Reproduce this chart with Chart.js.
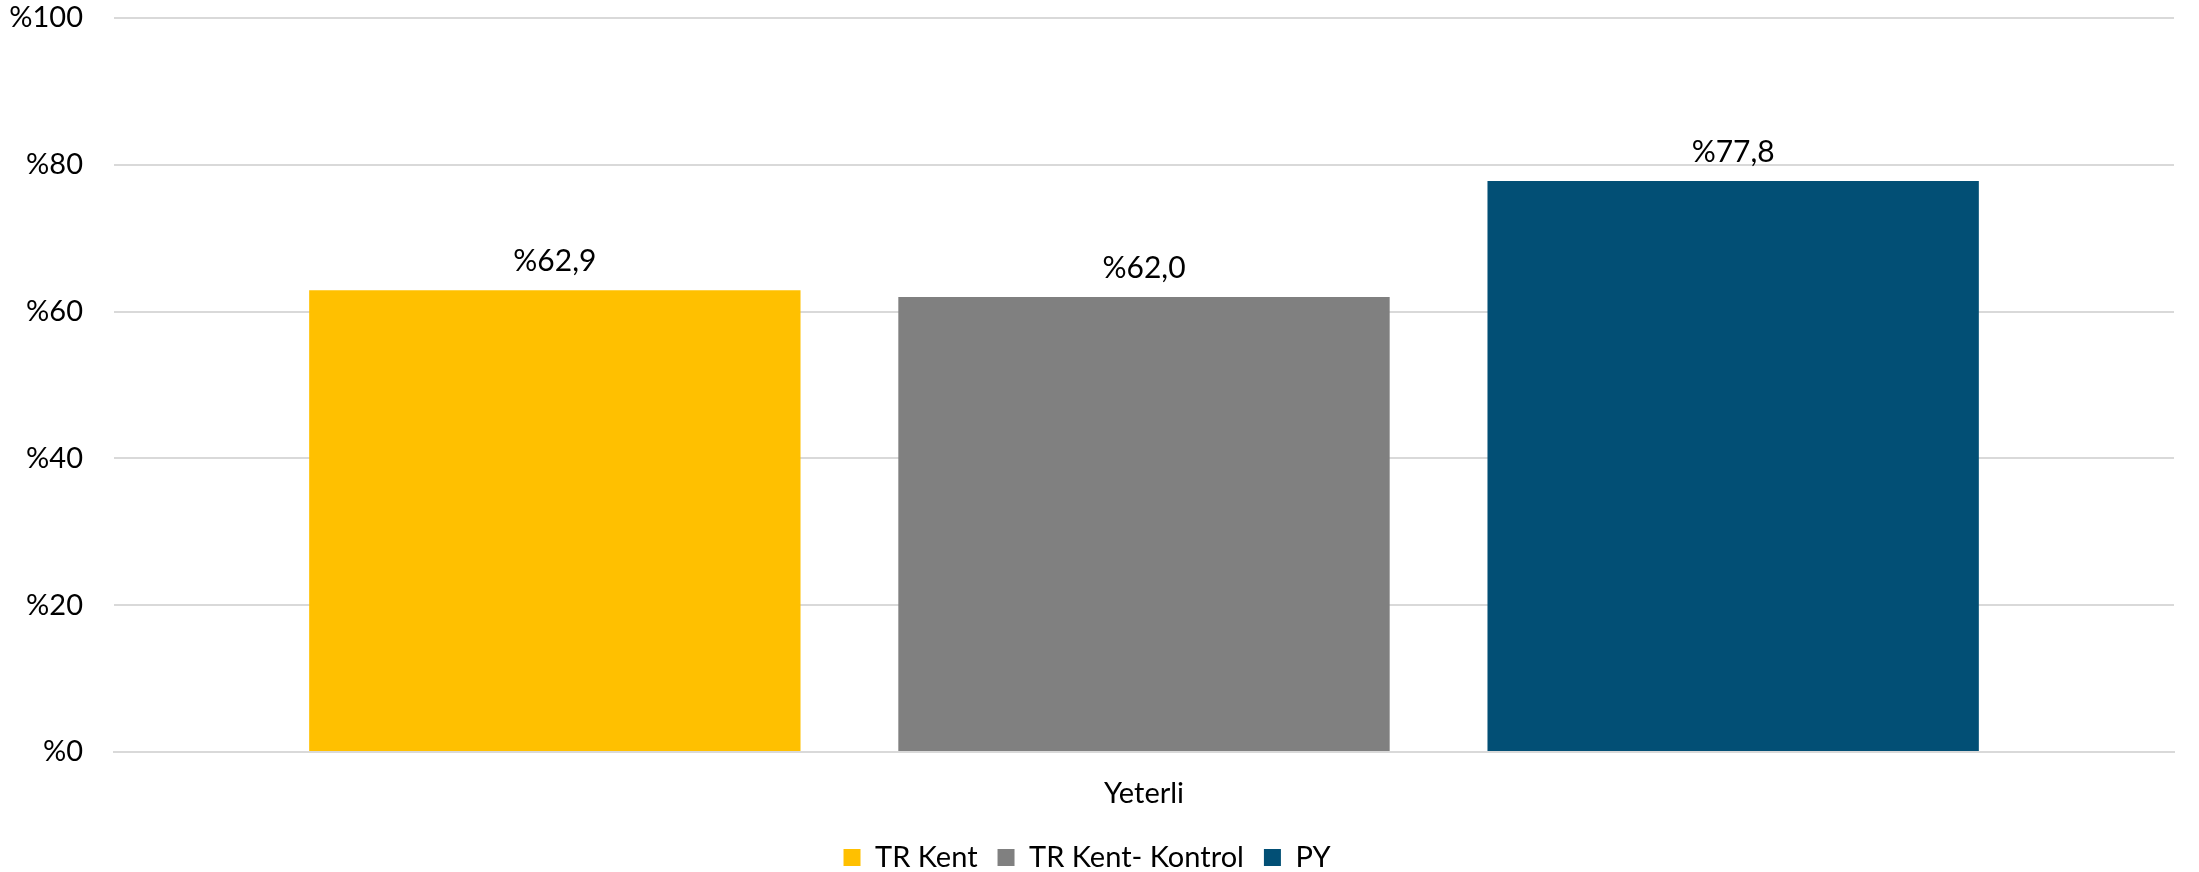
<!DOCTYPE html>
<html>
<head>
<meta charset="utf-8">
<script src="https://cdn.jsdelivr.net/npm/chart.js@4"></script>
<style>
  html, body { margin: 0; padding: 0; background: #ffffff; }
  #wrap { width: 2199px; height: 872px; }
</style>
</head>
<body>
<div id="wrap"><canvas id="chart" width="2199" height="872"></canvas></div>
<script>
// Chart data
const categories = ["Yeterli"];
const seriesNames = ["TR Kent", "TR Kent- Kontrol", "PY"];
const trKent = [62.9];
const trKentKontrol = [62.0];
const py = [77.8];
const yTicks = [0, 20, 40, 60, 80, 100];

const colors = ["#FFC000", "#808080", "#024F75"];
const fontFamily = "Lato, 'Open Sans', sans-serif";

// Format like "%62,9"
function pct(v, digits) {
  return "%" + v.toFixed(digits).replace(".", ",");
}

// Value labels above bars
const barLabels = {
  id: "barLabels",
  afterDatasetsDraw(chart) {
    const ctx = chart.ctx;
    ctx.save();
    ctx.font = "30px " + fontFamily;
    ctx.fillStyle = "#000000";
    ctx.textAlign = "center";
    ctx.textBaseline = "bottom";
    chart.data.datasets.forEach((ds, i) => {
      const meta = chart.getDatasetMeta(i);
      meta.data.forEach((bar, j) => {
        ctx.fillText(pct(ds.data[j], 1), bar.x, bar.y - 14);
      });
    });
    ctx.restore();
  },
};

new Chart(document.getElementById("chart"), {
  type: "bar",
  data: {
    labels: categories,
    datasets: [
      { label: seriesNames[0], data: trKent, backgroundColor: colors[0] },
      { label: seriesNames[1], data: trKentKontrol, backgroundColor: colors[1] },
      { label: seriesNames[2], data: py, backgroundColor: colors[2] },
    ],
  },
  options: {
    responsive: false,
    animation: false,
    layout: { padding: { top: 18, right: 25, left: 0, bottom: -10 } },
    datasets: {
      bar: { categoryPercentage: 0.858, barPercentage: 0.834 },
    },
    plugins: {
      tooltip: { enabled: false },
      legend: {
        position: "bottom",
        labels: {
          color: "#000000",
          font: { family: fontFamily, size: 29, lineHeight: 1 },
          boxWidth: 17,
          boxHeight: 17,
          padding: 20,
        },
      },
    },
    scales: {
      x: {
        afterFit(scale) { scale.height = 71; },
        grid: { display: false, drawTicks: false },
        border: { color: "#D9D9D9", width: 2 },
        ticks: {
          color: "#000000",
          font: { family: fontFamily, size: 29 },
          padding: 24,
        },
      },
      y: {
        min: 0,
        max: 100,
        afterFit(scale) {
          scale.width = 114;
          scale.paddingTop = 0;
          scale.paddingBottom = 0;
        },
        afterBuildTicks(scale) {
          scale.ticks = yTicks.map((v) => ({ value: v }));
        },
        grid: { color: "#D9D9D9", lineWidth: 2, drawTicks: false },
        border: { display: false },
        ticks: {
          color: "#000000",
          font: { family: fontFamily, size: 29 },
          padding: 31,
          callback: (v) => "%" + v,
        },
      },
    },
  },
  plugins: [barLabels],
});
</script>
</body>
</html>
